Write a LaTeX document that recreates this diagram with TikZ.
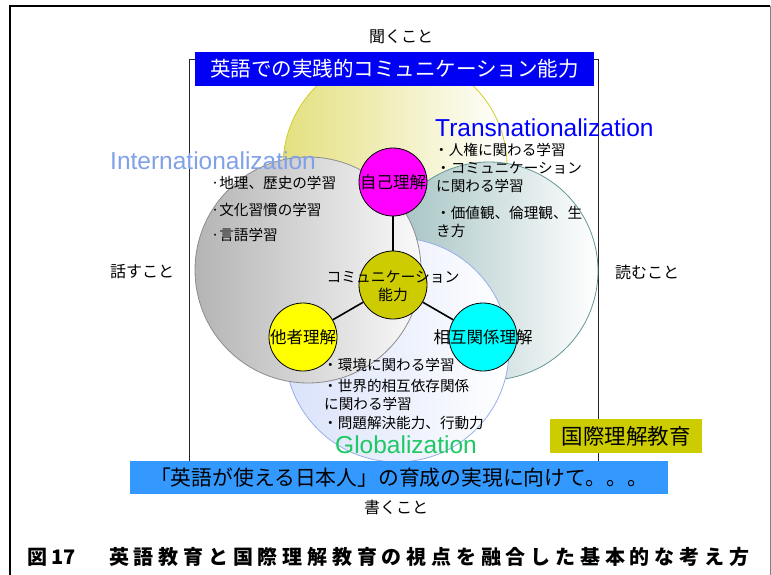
\documentclass[tikz,border=0pt]{standalone}
\usepackage{fontspec}
\setmainfont{Noto Sans CJK JP}
\newfontfamily\lat{Liberation Sans}
\newfontfamily\capfont[LetterSpace=24]{Noto Sans CJK JP}
\newcommand\fs[1]{\fontsize{#1}{#1}\selectfont}
\definecolor{yelL}{RGB}{228,224,128}
\definecolor{yelB}{RGB}{210,205,40}
\definecolor{teaL}{RGB}{158,190,190}
\definecolor{teaB}{RGB}{100,150,150}
\definecolor{bluL}{RGB}{218,226,250}
\definecolor{bluB}{RGB}{150,175,235}
\definecolor{gryL}{RGB}{180,180,180}
\definecolor{gryR}{RGB}{250,250,250}
\definecolor{gryB}{RGB}{140,140,140}
\definecolor{olive}{RGB}{204,204,0}
\definecolor{pmag}{RGB}{255,0,255}
\definecolor{pcyan}{RGB}{0,255,255}
\definecolor{pyel}{RGB}{255,255,0}
\definecolor{titleblue}{RGB}{0,0,245}
\definecolor{banblue}{RGB}{51,153,255}
\definecolor{intlblue}{RGB}{128,160,232}
\definecolor{transblue}{RGB}{0,0,255}
\definecolor{globgreen}{RGB}{30,200,100}
\tikzset{
  bigc/.style={circle, inner sep=0pt, minimum size=#1, line width=0.8pt},
  smallc/.style={circle, draw=black, line width=0.8pt, minimum size=68pt, inner sep=0pt,
     label={[font=\fs{16.5}]center:#1}},
  lbl/.style={anchor=west, inner sep=0pt, font=\fs{14.6}},
  side/.style={inner sep=0pt, font=\fs{16}},
  latin/.style={anchor=base west, inner sep=0pt, font=\lat\fs{24.5}},
  conn/.style={line width=1.6pt},
}
\begin{document}
\begin{tikzpicture}[x=1pt,y=-1pt]
\useasboundingbox (0,0) rectangle (771,575);
% outer frame
\coordinate (otl) at (10,6);
\coordinate (otr) at (770,6);
\coordinate (obl) at (10,575);
\coordinate (obr) at (770,575);
\draw[line width=2.5pt] (obl) -- (otl) -- (otr);
\draw[black!50, line width=0.8pt] (otr) -- (obr);
% inner frame
\draw[line width=0.8pt, black!85] (189,59) rectangle (598,477);
% big circles
\node[bigc=224pt, draw=yelB, left color=yelL, right color=white] (yel) at (395,166) {};
\node[bigc=218pt, draw=teaB, left color=teaL, right color=white] (tea) at (489,271) {};
\node[bigc=224pt, draw=bluB, left color=bluL, right color=white] (blu) at (397,350) {};
\node[bigc=226pt, draw=gryB, left color=gryL, right color=gryR] (gry) at (308,270) {};
% Latin headings
\node[latin, text=intlblue] (intl) at (110,169) {Internationalization};
\node[latin, text=transblue] (trans) at (435,137) {Transnationalization};
\node[latin, text=globgreen] (glob) at (335,453) {Globalization};
% lists
\node[lbl] (i1) at (211,183) {·地理、歴史の学習};
\node[lbl] (i2) at (211,210) {·文化習慣の学習};
\node[lbl] (i3) at (211,235) {·言語学習};
\node[lbl] (t1) at (434,150) {・人権に関わる学習};
\node[lbl] (t2) at (436,168) {・コミュニケーション};
\node[lbl] (t3) at (436,186) {に関わる学習};
\node[lbl] (t4) at (436,213) {・価値観、倫理観、生};
\node[lbl] (t5) at (436,231) {き方};
\node[lbl] (g1) at (323,365) {・環境に関わる学習};
\node[lbl] (g2) at (323,386) {・世界的相互依存関係};
\node[lbl] (g3) at (324,404) {に関わる学習};
\node[lbl] (g4) at (323,423) {・問題解決能力、行動力};
% small circles
\node[smallc=自己理解, fill=pmag] (self) at (393,182) {};
\node[smallc=, fill=olive] (com) at (393,285) {};
\node[smallc=他者理解, fill=pyel] (other) at (303,337) {};
\node[smallc=相互関係理解, fill=pcyan] (mutual) at (483,337) {};
\draw[conn] (com) -- (self);
\draw[conn] (com) -- (other);
\draw[conn] (com) -- (mutual);
\node[align=center, inner sep=0pt, font=\fontsize{14.8}{18}\selectfont] (comtext) at (393,286) {コミュニケーション\\能力};
% side labels
\node[side] (listen) at (401,37) {聞くこと};
\node[side] (speak) at (142,272) {話すこと};
\node[side] (read) at (647,272) {読むこと};
\node[side] (write) at (396,507) {書くこと};
% banners
\node[fill=titleblue, minimum width=399pt, minimum height=34pt, inner sep=0pt, text=white, font=\fs{20.5}] (title) at (394.5,69) {英語での実践的コミュニケーション能力};
\node[fill=banblue, minimum width=538pt, minimum height=33pt, inner sep=0pt, font=\fs{20.8}] (goal) at (399,477.5) {「英語が使える日本人」の育成の実現に向けて。。。};
\node[fill=olive, minimum width=152pt, minimum height=34pt, inner sep=0pt, font=\fs{21.5}] (iue) at (626,436) {国際理解教育};
% caption
\node[anchor=base west, inner sep=0pt, font=\bfseries\fs{20}] (fig) at (27,564) {図\hspace{4pt}17};
\node[anchor=base west, inner sep=0pt, font=\capfont\bfseries\fs{20}] (cap) at (109,564) {英語教育と国際理解教育の視点を融合した基本的な考え方};
\end{tikzpicture}
\end{document}
